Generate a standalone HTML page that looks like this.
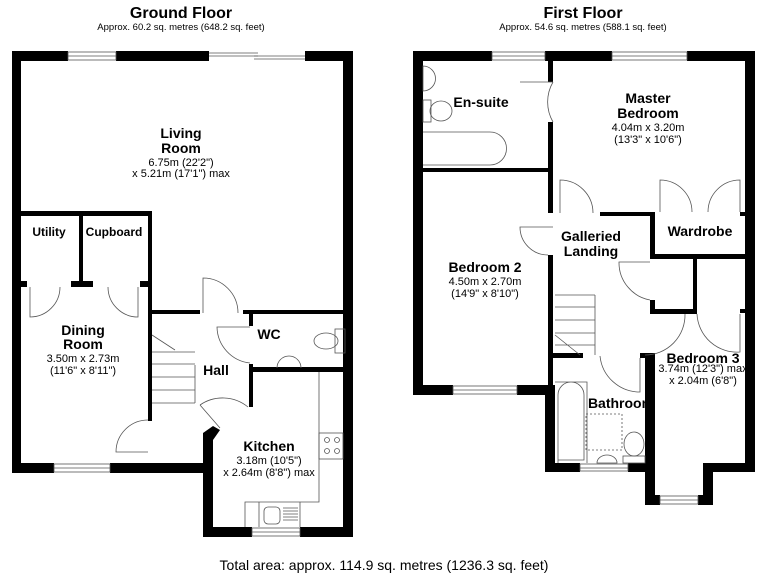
<!DOCTYPE html>
<html><head><meta charset="utf-8"><style>
html,body{margin:0;padding:0;background:#fff}
svg{display:block}
text{font-family:"Liberation Sans",Arial,sans-serif;fill:#000;text-anchor:middle}
.b{font-weight:bold;font-size:14px}
.s{font-size:11px}
.bs{font-weight:bold;font-size:12px}
</style></head><body>
<svg width="768" height="576" viewBox="0 0 768 576" xmlns="http://www.w3.org/2000/svg">
<rect width="768" height="576" fill="#fff"/>
<g fill="#000">
<!-- Ground floor outer -->
<rect x="12" y="51" width="56" height="10"/>
<rect x="116" y="51" width="93" height="10"/>
<rect x="305" y="51" width="48" height="10"/>
<rect x="12" y="51" width="9" height="422"/>
<rect x="343" y="51" width="10" height="486"/>
<rect x="12" y="463" width="42" height="10"/>
<rect x="110" y="463" width="103" height="10"/>
<rect x="203" y="433" width="10" height="104"/>
<rect x="203" y="527" width="49" height="10"/>
<rect x="300" y="527" width="53" height="10"/>
<polygon points="203,433 213,426 220,430 213,440"/>
<!-- inner ground -->
<rect x="21" y="211" width="131" height="5"/>
<rect x="79" y="216" width="4" height="66"/>
<rect x="21" y="281" width="6" height="6"/>
<rect x="71" y="281" width="22" height="6"/>
<rect x="140" y="281" width="8" height="6"/>
<rect x="148" y="211" width="4" height="210"/>
<rect x="152" y="310" width="48" height="4"/>
<rect x="243" y="310" width="100" height="4"/>
<rect x="249" y="314" width="4" height="12"/>
<rect x="249" y="364" width="4" height="43"/>
<rect x="249" y="367" width="94" height="5"/>
<!-- First floor outer -->
<rect x="413" y="51" width="79" height="10"/>
<rect x="545" y="51" width="67" height="10"/>
<rect x="687" y="51" width="68" height="10"/>
<rect x="413" y="51" width="10" height="344"/>
<rect x="745" y="51" width="10" height="421"/>
<rect x="413" y="385" width="40" height="10"/>
<rect x="517" y="385" width="38" height="10"/>
<rect x="545" y="385" width="10" height="87"/>
<rect x="545" y="463" width="35" height="9"/>
<rect x="628" y="463" width="27" height="9"/>
<rect x="645" y="353" width="10" height="152"/>
<rect x="645" y="495" width="15" height="10"/>
<rect x="698" y="495" width="15" height="10"/>
<rect x="703" y="463" width="10" height="42"/>
<rect x="703" y="463" width="52" height="9"/>
<!-- inner first -->
<rect x="548" y="61" width="5" height="21"/>
<rect x="548" y="122" width="5" height="91"/>
<rect x="423" y="168" width="130" height="4"/>
<rect x="548" y="255" width="5" height="130"/>
<rect x="600" y="212" width="55" height="4"/>
<rect x="650" y="212" width="5" height="46"/>
<rect x="740" y="212" width="5" height="4"/>
<rect x="650" y="254" width="95" height="5"/>
<rect x="693" y="258" width="4" height="56"/>
<rect x="650" y="300" width="5" height="14"/>
<rect x="650" y="309" width="47" height="5"/>
<rect x="740" y="309" width="5" height="4"/>
<rect x="553" y="353" width="30" height="5"/>
<rect x="640" y="353" width="10" height="5"/>
</g>
<g fill="none" stroke="#555" stroke-width="0.8">
<!-- windows -->
<rect x="68" y="52" width="48" height="8"/><line x1="68" y1="56" x2="116" y2="56"/>
<line x1="209" y1="53" x2="258" y2="53"/><line x1="209" y1="56" x2="258" y2="56"/><line x1="254" y1="56" x2="305" y2="56"/><line x1="254" y1="59" x2="305" y2="59"/>
<rect x="54" y="464" width="56" height="8"/><line x1="54" y1="468" x2="110" y2="468"/>
<rect x="252" y="528" width="48" height="8"/><line x1="252" y1="532" x2="300" y2="532"/>
<rect x="492" y="52" width="53" height="8"/><line x1="492" y1="56" x2="545" y2="56"/>
<rect x="612" y="52" width="75" height="8"/><line x1="612" y1="56" x2="687" y2="56"/>
<rect x="453" y="386" width="64" height="8"/><line x1="453" y1="390" x2="517" y2="390"/>
<rect x="580" y="464" width="48" height="7"/><line x1="580" y1="468" x2="628" y2="468"/>
<rect x="660" y="496" width="38" height="8"/><line x1="660" y1="500" x2="698" y2="500"/>
<!-- doors ground -->
<path d="M30 287 V317 A30 30 0 0 0 60 287"/>
<path d="M138 287 V317 A30 30 0 0 1 108 287"/>
<path d="M203 313 V278 A35 35 0 0 1 238 313"/>
<path d="M250 327 H217 A37 37 0 0 0 250 363"/>
<path d="M148 420 A32 32 0 0 0 116 452 H148"/>
<path d="M200 405 A40 40 0 0 1 248 407 M200 405 L220 428"/>
<!-- stairs ground -->
<path d="M152 335 L175 350 M152 352 H195 M152 364 H195 M152 377 H195 M152 390 H195 M152 403 H195 M195 365 V403"/>
<!-- WC -->
<ellipse cx="326" cy="341" rx="12" ry="8"/><rect x="335" y="329" width="10" height="24"/>
<path d="M277 368 A12 12 0 0 1 301 368"/>
<!-- kitchen -->
<path d="M319 372 V502 H245 V527 M259 502 V527 M300 502 V527"/>
<rect x="319" y="433" width="24" height="26"/>
<circle cx="327" cy="440" r="2.5"/><circle cx="337" cy="440" r="2.5"/><circle cx="327" cy="451" r="2.5"/><circle cx="337" cy="451" r="2.5"/>
<rect x="264" y="507" width="16" height="17" rx="4"/>
<path d="M283 508 H298 M283 511 H298 M283 514 H298 M283 517 H298 M283 520 H298"/>
<!-- first floor fixtures -->
<path d="M423 66 A12 12 0 0 1 423 91 Z"/>
<rect x="423" y="100" width="8" height="22"/><ellipse cx="441" cy="111" rx="11" ry="10"/>
<path d="M423 132 H490 A15 15 0 0 1 490 165 H423"/>
<path d="M553 82 A40 40 0 0 0 553 122 M553 82 H520"/>
<path d="M560 213 V180 A33 33 0 0 1 593 213"/>
<path d="M660 212 V180 A32 32 0 0 1 692 212 M740 212 V180 A32 32 0 0 0 708 212"/>
<path d="M553 227 H520 A28 28 0 0 0 548 255"/>
<path d="M650 300 A38 38 0 0 1 619 262 H650"/>
<path d="M697 314 A40 40 0 0 0 740 352 V314"/>
<path d="M685 314 A40 40 0 0 1 645 355"/>
<path d="M640 358 V392 A40 40 0 0 1 600 356"/>
<path d="M555 295 H595 M555 307 H595 M555 320 H595 M555 333 H595 M555 345 H595 M595 295 V355 M555 335 L580 355"/>
<path d="M555 382 H587 V463 M558 463 V395 A13 13 0 0 1 584 395 V460 H558"/>
<rect x="586" y="414" width="36" height="36" stroke-dasharray="2 2"/>
<path d="M597 463 A10 8 0 0 1 617 463 Z"/>
<ellipse cx="634" cy="444" rx="10" ry="12"/><rect x="623" y="456" width="22" height="7"/>
</g>
<!-- Text -->
<text x="181" y="18" style="font-weight:bold;font-size:16px">Ground Floor</text>
<text x="181" y="30" style="font-size:9.5px">Approx. 60.2 sq. metres (648.2 sq. feet)</text>
<text x="583" y="18" style="font-weight:bold;font-size:16px">First Floor</text>
<text x="583" y="30" style="font-size:9.5px">Approx. 54.6 sq. metres (588.1 sq. feet)</text>
<text x="384" y="570" style="font-size:14px">Total area: approx. 114.9 sq. metres (1236.3 sq. feet)</text>
<text class="b" x="181" y="138">Living</text><text class="b" x="181" y="153">Room</text>
<text class="s" x="181" y="166">6.75m (22'2")</text><text class="s" x="181" y="177">x 5.21m (17'1") max</text>
<text class="bs" x="49" y="236">Utility</text><text class="bs" x="114" y="236">Cupboard</text>
<text class="b" x="83" y="335">Dining</text><text class="b" x="83" y="349">Room</text>
<text class="s" x="83" y="362">3.50m x 2.73m</text><text class="s" x="83" y="374">(11'6" x 8'11")</text>
<text class="b" x="216" y="375">Hall</text>
<text class="b" x="269" y="339">WC</text>
<text class="b" x="269" y="451">Kitchen</text>
<text class="s" x="269" y="464">3.18m (10'5")</text><text class="s" x="269" y="476">x 2.64m (8'8") max</text>
<text class="b" x="481" y="107">En-suite</text>
<text class="b" x="648" y="103">Master</text><text class="b" x="648" y="118">Bedroom</text>
<text class="s" x="648" y="131">4.04m x 3.20m</text><text class="s" x="648" y="143">(13'3" x 10'6")</text>
<text class="b" x="700" y="236">Wardrobe</text>
<text class="b" x="591" y="241">Galleried</text><text class="b" x="591" y="256">Landing</text>
<text class="b" x="485" y="272">Bedroom 2</text>
<text class="s" x="485" y="285">4.50m x 2.70m</text><text class="s" x="485" y="297">(14'9" x 8'10")</text>
<text class="b" x="703" y="363">Bedroom 3</text>
<text class="s" x="703" y="372" dy="0">3.74m (12'3") max</text><text class="s" x="703" y="384">x 2.04m (6'8")</text>
<text class="b" x="621" y="408">Bathroom</text>
</svg>
</body></html>
